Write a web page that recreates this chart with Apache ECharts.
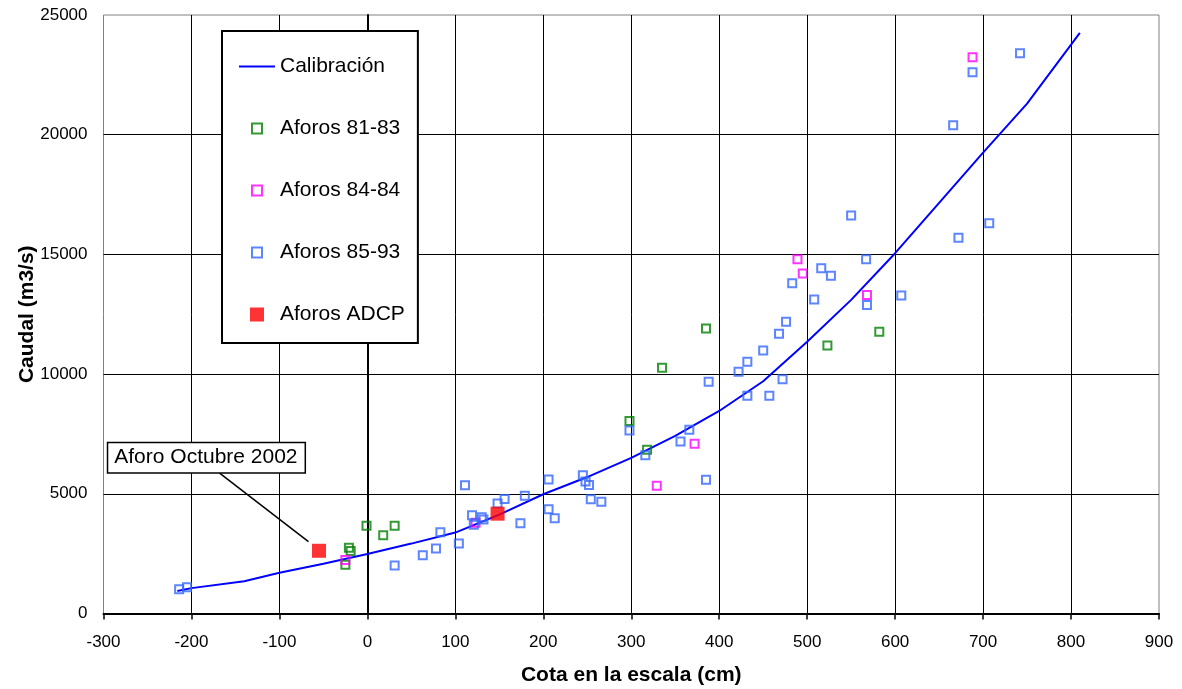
<!DOCTYPE html>
<html>
<head>
<meta charset="utf-8">
<script src="https://cdn.jsdelivr.net/npm/echarts@6/dist/echarts.min.js"></script>
<style>
html,body{margin:0;padding:0;background:#fff;}
#chart{width:1182px;height:689px;}
</style>
</head>
<body>
<div id="chart"></div>
<script>
// ---- data ----
const calibracion = [
  [-216, 940], [-200, 1060], [-140, 1350], [-100, 1700], [-50, 2080], [0, 2485],
  [50, 2920], [100, 3380], [150, 4130], [200, 4980], [250, 5700], [300, 6500],
  [350, 7420], [400, 8460], [450, 9700], [500, 11350], [550, 13100], [600, 15050],
  [650, 17150], [700, 19250], [750, 21300], [810, 24250]
];
const aforos8183 = [
  [-25, 2040], [-21, 2750], [-19, 2610], [-1, 3670], [18, 3270], [31, 3670],
  [298, 8040], [318, 6840], [335, 10270], [385, 11900], [523, 11190], [582, 11770]
];
const aforos8484 = [
  [-25, 2235], [123, 3790], [329, 5340], [372, 7090], [489, 14800], [495, 14200],
  [568, 13300], [688, 23230]
];
const aforos8593 = [
  [-214, 1010], [-205, 1095], [31, 2010], [63, 2430], [78, 2710], [83, 3390],
  [104, 2920], [111, 5360], [119, 4100], [121, 3710], [130, 4020], [132, 3930],
  [148, 4600], [156, 4780], [174, 3770], [179, 4920], [206, 5600], [206, 4350],
  [213, 3980], [245, 5770], [248, 5510], [252, 5370], [254, 4770], [266, 4670],
  [298, 7640], [316, 6610], [356, 7180], [366, 7680], [385, 5590], [388, 9680],
  [422, 10100], [432, 10520], [432, 9100], [450, 10990], [457, 9100], [468, 11690],
  [472, 9780], [476, 12190], [483, 13790], [508, 13120], [516, 14420], [527, 14110],
  [550, 16630], [567, 14800], [568, 12890], [607, 13280], [666, 20390], [672, 15700],
  [688, 22610], [707, 16300], [742, 23400]
];
const aforosADCP = [[-55, 2620], [148, 4170]];
const seriesNames = ['Calibración', 'Aforos 81-83', 'Aforos 84-84', 'Aforos 85-93', 'Aforos ADCP'];
const annotationText = 'Aforo Octubre 2002';
const xAxisName = 'Cota en la escala (cm)';
const yAxisName = 'Caudal (m3/s)';

// ---- chart ----
const FONT = "'Liberation Sans', Arial, sans-serif";
const SQUARE_FULL = 'path://M0,0L14,0L14,14L0,14Z';
const SQUARE_SMALL = 'path://M0,0M14,14M2,2L12,2L12,12L2,12Z';
const chart = echarts.init(document.getElementById('chart'), null, {renderer: 'canvas'});

function hollow(name, data, color) {
  return {
    name: name, type: 'scatter', data: data,
    symbol: 'rect', symbolSize: 8,
    itemStyle: {color: 'rgba(0,0,0,0)', borderColor: color, borderWidth: 2},
    emphasis: {disabled: true}
  };
}

const option = {
  animation: false,
  backgroundColor: '#fff',
  textStyle: {fontFamily: FONT},
  grid: {
    left: 103.5, right: 23, top: 15, bottom: 75.5,
    outerBoundsMode: 'none', containLabel: false,
    show: true, borderColor: '#808080', borderWidth: 1, backgroundColor: 'transparent'
  },
  legend: {
    data: [
      {name: seriesNames[0], itemStyle: {opacity: 0}},
      {name: seriesNames[1], icon: SQUARE_SMALL},
      {name: seriesNames[2], icon: SQUARE_SMALL},
      {name: seriesNames[3], icon: SQUARE_SMALL},
      {name: seriesNames[4], icon: SQUARE_FULL}
    ],
    orient: 'vertical',
    left: 222, top: 31,
    padding: [25, 13, 18, 16],
    itemGap: 41,
    itemWidth: 36, itemHeight: 14,
    symbolKeepAspect: true,
    backgroundColor: '#fff',
    borderColor: '#000', borderWidth: 2, borderRadius: 0,
    selectedMode: false,
    textStyle: {fontFamily: FONT, fontSize: 21, color: '#000', lineHeight: 21}
  },
  xAxis: {
    type: 'value', min: -300, max: 900, interval: 100,
    name: xAxisName, nameLocation: 'middle', nameGap: 51, nameMoveOverlap: false,
    nameTextStyle: {fontFamily: FONT, fontSize: 21, fontWeight: 'bold', color: '#000'},
    axisLine: {show: true, onZero: false, lineStyle: {color: '#000', width: 2}},
    axisTick: {show: true, inside: false, length: 6, lineStyle: {color: '#000', width: 1.5}},
    axisLabel: {fontFamily: FONT, fontSize: 17, color: '#000', margin: 20},
    splitLine: {show: true, showMinLine: false, showMaxLine: false, lineStyle: {color: '#000', width: 1}}
  },
  yAxis: [{
    type: 'value', min: 0, max: 25000, interval: 5000,
    name: yAxisName, nameLocation: 'middle', nameGap: 66, nameRotate: 90, nameMoveOverlap: false,
    nameTextStyle: {fontFamily: FONT, fontSize: 21, fontWeight: 'bold', color: '#000'},
    axisLine: {show: false, onZero: false},
    axisTick: {show: false},
    axisLabel: {fontFamily: FONT, fontSize: 17, color: '#000', margin: 16,
      formatter: function (v) { return String(v); }},
    splitLine: {show: true, showMinLine: false, showMaxLine: false, lineStyle: {color: '#000', width: 1}}
  }, {
    type: 'value', min: 0, max: 25000, interval: 5000, position: 'left',
    axisLine: {show: true, onZero: true, lineStyle: {color: '#000', width: 2}},
    axisTick: {show: false},
    axisLabel: {show: false},
    splitLine: {show: false}
  }],
  series: [
    {
      name: seriesNames[0], type: 'line', data: calibracion,
      symbol: 'none', smooth: false,
      lineStyle: {color: '#0000ff', width: 2},
      itemStyle: {color: '#0000ff'},
      emphasis: {disabled: true}, z: 2
    },
    hollow(seriesNames[1], aforos8183, '#008000'),
    hollow(seriesNames[2], aforos8484, '#ff00ff'),
    hollow(seriesNames[3], aforos8593, '#3366ff'),
    {
      name: seriesNames[4], type: 'scatter', data: aforosADCP,
      symbol: 'rect', symbolSize: 14,
      itemStyle: {color: '#ff0000'},
      emphasis: {disabled: true}, z: 4,
      markLine: {
        silent: true, animation: false,
        symbol: ['none', 'arrow'], symbolSize: [0, 18],
        lineStyle: {color: '#000', width: 1.5, type: 'solid'},
        label: {show: false},
        data: [[{coord: [-168, 5860]}, {coord: [-67, 3000]}]]
      },
      markPoint: {
        silent: true, animation: false,
        data: [{
          coord: [-183, 6510], symbol: 'rect', symbolSize: 0,
          label: {
            show: true, position: 'inside', formatter: annotationText,
            fontFamily: FONT, fontSize: 21, color: '#000', lineHeight: 24,
            backgroundColor: '#fff', borderColor: '#000', borderWidth: 1.5,
            padding: [3, 7, 2, 6]
          }
        }]
      }
    }
  ]
};
chart.setOption(option);
</script>
</body>
</html>
